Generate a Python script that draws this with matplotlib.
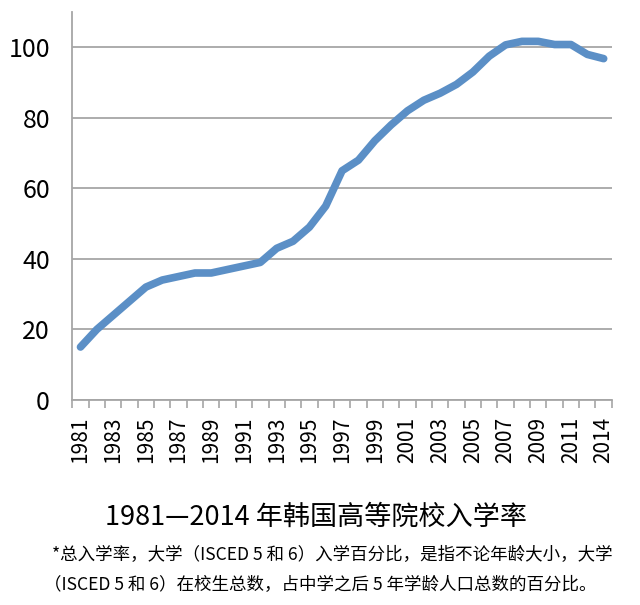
import numpy as np
import matplotlib
matplotlib.use("Agg")
import matplotlib.pyplot as plt

plt.rcParams['font.family'] = ['Noto Sans CJK SC', 'DejaVu Sans']

# data (2013 is not in the source series)
years = [1981, 1982, 1983, 1984, 1985, 1986, 1987, 1988, 1989, 1990,
         1991, 1992, 1993, 1994, 1995, 1996, 1997, 1998, 1999, 2000,
         2001, 2002, 2003, 2004, 2005, 2006, 2007, 2008, 2009, 2010,
         2011, 2012, 2014]
rate = [15, 20, 24, 28, 32, 34, 35, 36, 36, 37,
        38, 39, 43, 45, 49, 55, 65, 68, 73.5, 78,
        82, 85, 87, 89.5, 93, 97.5, 100.7, 101.7, 101.7, 100.8,
        100.8, 98, 96.8]
yticks = [0, 20, 40, 60, 80, 100]

title = "1981—2014 年韩国高等院校入学率"
note1 = "*总入学率，大学（ISCED 5 和 6）入学百分比，是指不论年龄大小，大学"
note2 = "（ISCED 5 和 6）在校生总数，占中学之后 5 年学龄人口总数的百分比。"

fig = plt.figure(figsize=(6.4, 6.05), dpi=100)
ax = fig.add_axes([0.113, 0.339, 0.843, 0.641])

x = np.arange(len(years))
ax.plot(x, rate, color="#5b8fc6", lw=5.5, solid_capstyle="round",
        solid_joinstyle="round")

ax.set_xlim(-0.5, len(years) - 0.5)
ax.set_ylim(0, 110)
ax.set_yticks(yticks)
ax.tick_params(axis="y", length=0, labelsize=18, pad=16)
ax.yaxis.grid(True, color="#a6a6a6", lw=1.3)
ax.set_axisbelow(True)

ax.set_xticks(x[::2])
ax.set_xticklabels([str(y) for y in years[::2]], rotation=90)
ax.set_xticks(np.arange(-0.5, len(years)), minor=True)
ax.tick_params(axis="x", which="major", length=0, labelsize=15, pad=12)
ax.tick_params(axis="x", which="minor", length=6, width=1.2,
               color="#a6a6a6", direction="out")

for s in ["top", "right"]:
    ax.spines[s].set_visible(False)
for s in ["left", "bottom"]:
    ax.spines[s].set_color("#a6a6a6")
    ax.spines[s].set_linewidth(1.3)

fig.text(0.494, 0.145, title, ha="center", va="center", fontsize=19.5)
fig.text(0.081, 0.083, note1, ha="left", va="center", fontsize=12.6)
fig.text(0.068, 0.033, note2, ha="left", va="center", fontsize=12.6)

fig.savefig("out.png", dpi=100)
